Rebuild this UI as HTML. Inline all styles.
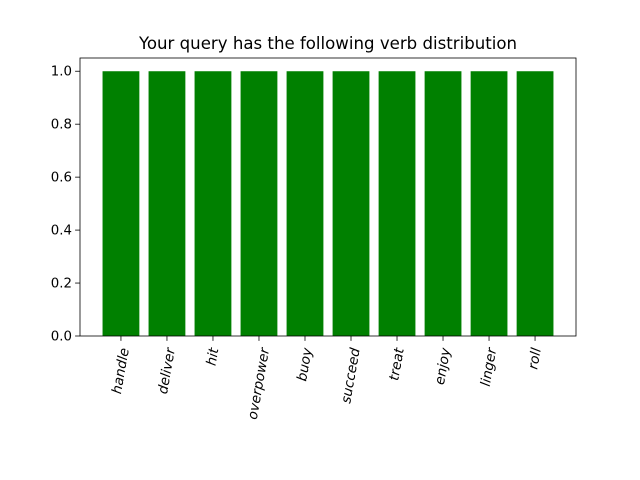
<!DOCTYPE html>
<html><head><meta charset="utf-8"><style>body{margin:0;background:#fff}svg{display:block;font-family:"DejaVu Sans","Liberation Sans",sans-serif}</style></head>
<body>
<svg id="c" width="640" height="480">
<text x="328" y="49" font-size="16.6" text-anchor="middle">Your query has the following verb distribution</text>
<g id="plot"></g>
</svg>
<script>
const categories=["handle","deliver","hit","overpower","buoy","succeed","treat","enjoy","linger","roll"];
const values=[1,1,1,1,1,1,1,1,1,1];
const yTicks=[0,0.2,0.4,0.6,0.8,1.0];
const yTickLabels=["0.0","0.2","0.4","0.6","0.8","1.0"];
const NS="http://www.w3.org/2000/svg";
const L=80,R=576,T=58,B=336;
const xmin=-0.89,xmax=categories.length-1+0.89,ymax=1.05;
const xs=v=>L+(v-xmin)/(xmax-xmin)*(R-L);
const ys=v=>B-v/ymax*(B-T);
const g=document.getElementById('plot');
function mk(t,a){const e=document.createElementNS(NS,t);for(const k in a)e.setAttribute(k,a[k]);g.appendChild(e);return e;}
categories.forEach((c,i)=>{
  const r=mk('rect',{x:xs(i-0.4),y:ys(values[i]),width:xs(i+0.4)-xs(i-0.4),height:B-ys(values[i]),fill:'#008000'});
  
  
  const t=mk('line',{x1:xs(i),x2:xs(i),y1:B,y2:B+4.9,stroke:'#000','stroke-width':0.8});
  
  
  const tx=mk('text',{x:0,y:0,'font-size':13.6,'font-style':'italic','text-anchor':'end','dominant-baseline':'central'});
  tx.textContent=c;
  
  
  const len=tx.getComputedTextLength();
  const a=80*Math.PI/180;
  const ex=xs(i)+len*Math.cos(a)/2;
  const ey=B+10+6.5*Math.cos(a)+1;
  tx.setAttribute('transform','translate('+ex+','+ey+') rotate(-80)');
});
yTicks.forEach((v,i)=>{
  const t=mk('line',{x1:L-4.9,x2:L,y1:ys(v),y2:ys(v),stroke:'#000','stroke-width':0.8});
  
  
  const tx=mk('text',{x:L-8,y:ys(v)+4.5,'font-size':13.33,'text-anchor':'end'});
  tx.textContent=yTickLabels[i];
  
  
});
const f=mk('rect',{x:L,y:T,width:R-L,height:B-T,fill:'none',stroke:'#000','stroke-width':0.8});


</script>
</body></html>
